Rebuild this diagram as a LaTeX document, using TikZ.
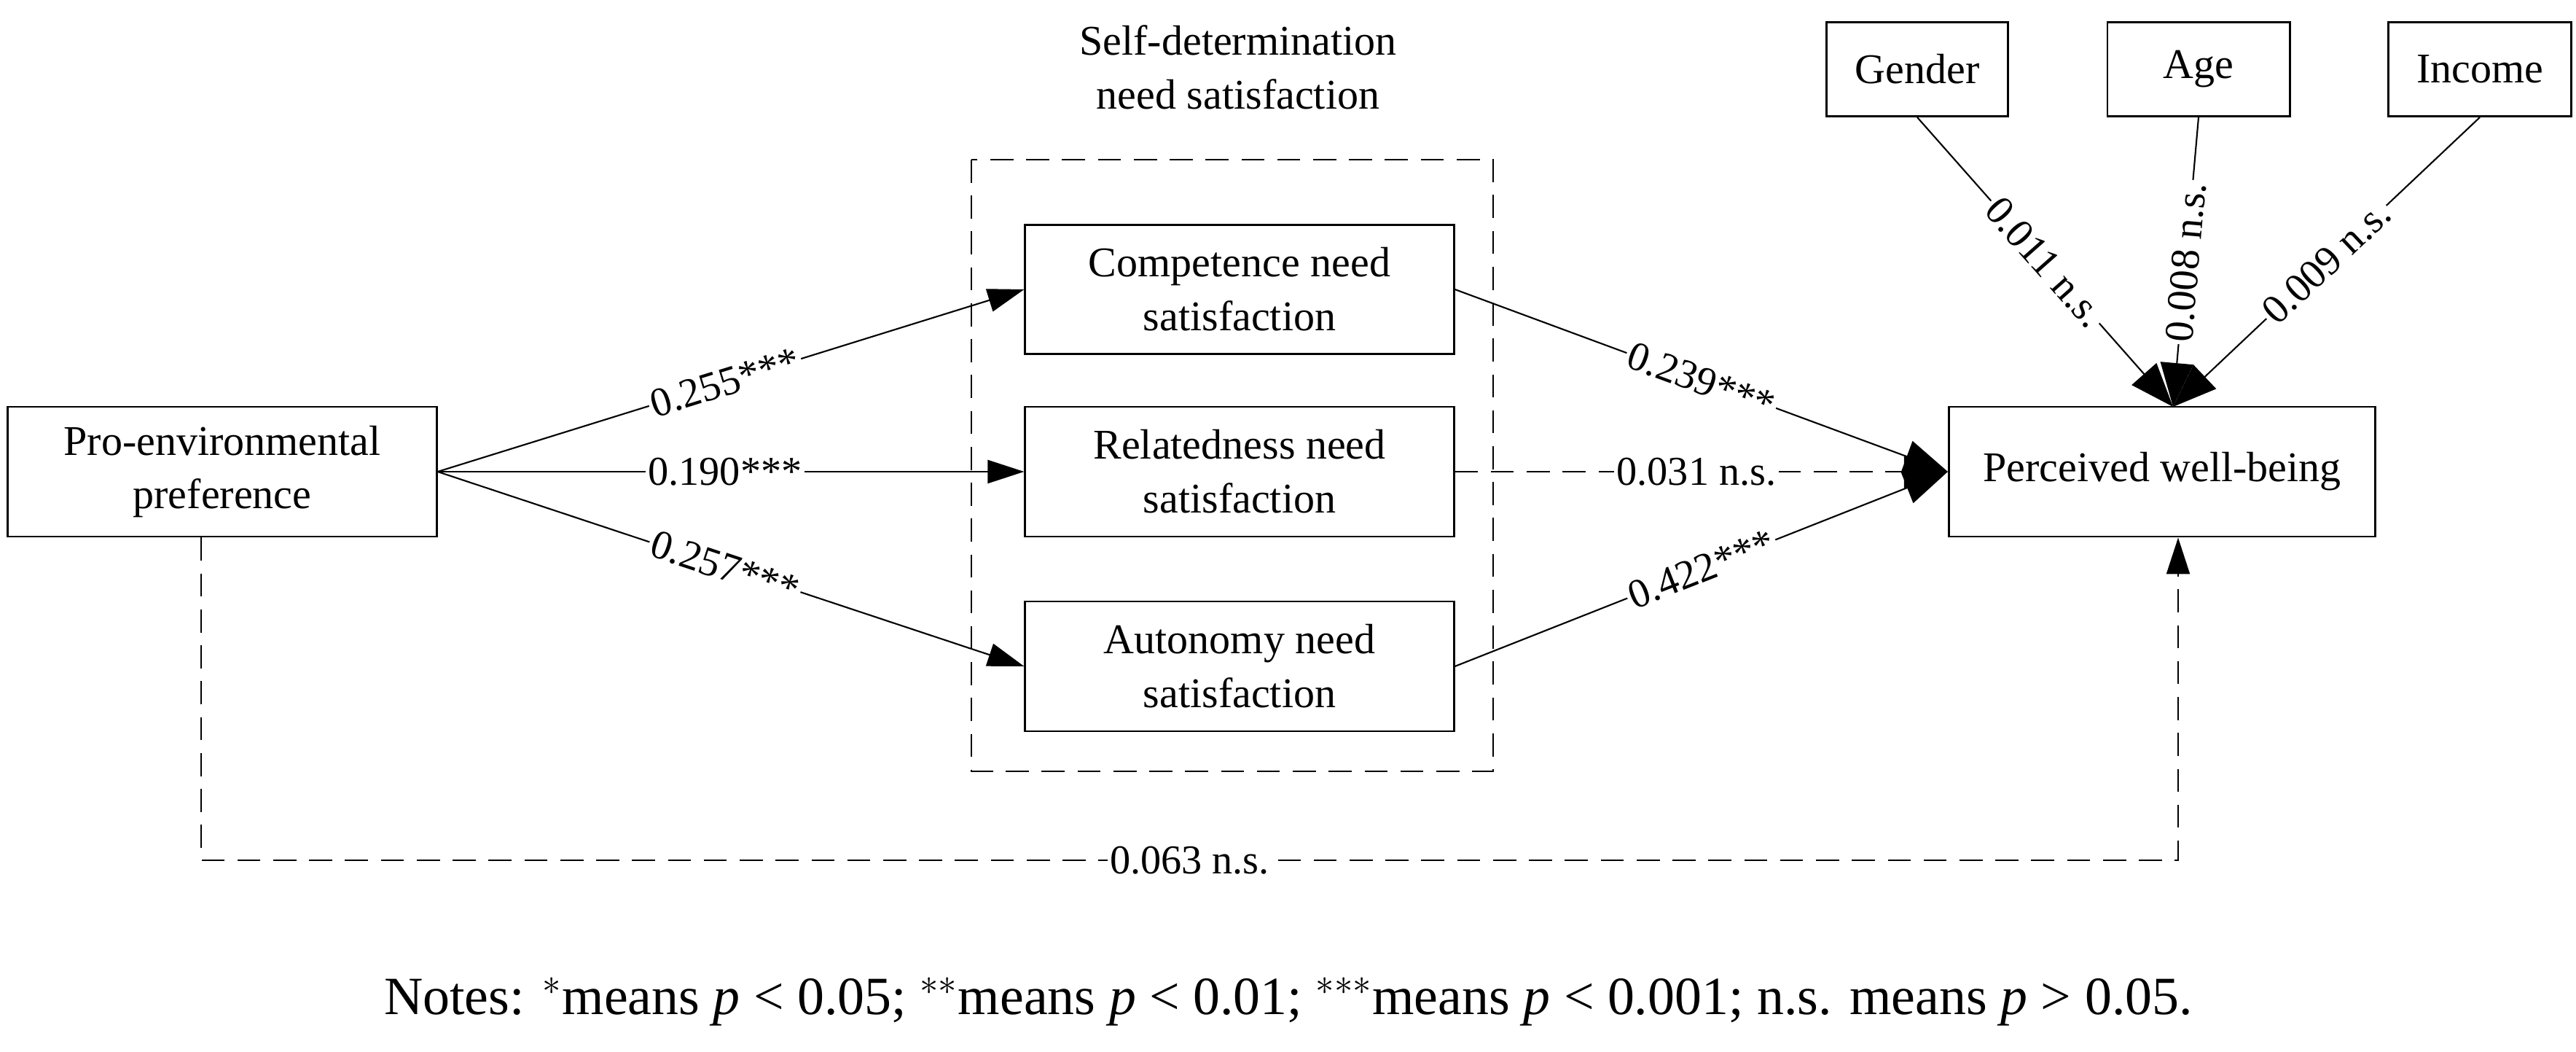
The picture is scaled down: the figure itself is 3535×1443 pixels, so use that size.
\documentclass[tikz,border=0pt]{standalone}
\usepackage{fontspec}
\setmainfont{Liberation Serif}
\usetikzlibrary{arrows.meta}
\begin{document}
\begin{tikzpicture}[x=0.01cm,y=-0.01cm,
  box/.style={draw,line width=0.8pt,align=center,font=\fontsize{16.5}{21}\selectfont,inner sep=0pt},
  lab/.style={fill=white,inner sep=1pt,font=\fontsize{16}{18}\selectfont},
  arr/.style={line width=0.6pt,-{Triangle[length=0.5cm,width=0.32cm]}},
  bigarr/.style={line width=0.6pt,-{Triangle[length=0.6cm,width=0.45cm]}},
  dsh/.style={dash pattern=on 9pt off 5pt}]
\useasboundingbox (0,0) rectangle (3535,1443);
\node[box,minimum width=5.88cm,minimum height=1.78cm] (pro) at (305,647) {Pro-environmental\\preference};
\node[box,minimum width=5.88cm,minimum height=1.77cm] (comp) at (1701,397) {Competence need\\satisfaction};
\node[box,minimum width=5.88cm,minimum height=1.78cm] (rel) at (1701,647) {Relatedness need\\satisfaction};
\node[box,minimum width=5.88cm,minimum height=1.78cm] (aut) at (1701,914) {Autonomy need\\satisfaction};
\node[box,minimum width=5.85cm,minimum height=1.78cm] (pwb) at (2967,647) {Perceived well-being};
\node[box,minimum width=2.49cm,minimum height=1.29cm] (gen) at (2631,95) {Gender};
\node[box,minimum width=2.5cm,minimum height=1.29cm] (age) at (3017,95) {Age};
\node[box,minimum width=2.51cm,minimum height=1.29cm] (inc) at (3403,95) {Income};
\draw[line width=0.8pt,dsh] (1333,219) rectangle (2049,1058);
\node[font=\fontsize{16.5}{21}\selectfont,align=center] (title) at (1699,92) {Self-determination\\need satisfaction};
\coordinate (top) at (2982,558);
\draw[arr] (pro.east) -- node[lab,sloped,pos=0.49]{0.255***} (comp.west);
\draw[arr] (pro.east) -- node[lab,pos=0.49]{0.190***} (rel.west);
\draw[arr] (pro.east) -- node[lab,sloped,pos=0.49]{0.257***} (aut.west);
\draw[bigarr] (comp.east) -- node[lab,sloped,pos=0.5]{0.239***} (pwb.west);
\draw[bigarr,dsh] (rel.east) -- node[lab,pos=0.49]{0.031 n.s.} (pwb.west);
\draw[bigarr] (aut.east) -- node[lab,sloped,pos=0.5]{0.422***} (pwb.west);
\draw[bigarr] (gen.south) -- node[lab,sloped,pos=0.5]{0.011 n.s.} (top);
\draw[bigarr] (age.south) -- node[lab,sloped,pos=0.5]{0.008 n.s.} (top);
\draw[bigarr] (inc.south) -- node[lab,sloped,pos=0.5]{0.009 n.s.} (top);
\coordinate (bl) at (276,1180);
\coordinate (br) at (2989,1180);
\draw[arr,dsh] (pro.south -| bl) -- (bl) -- node[lab,pos=0.5]{0.063 n.s.} (br) -- (pwb.south -| br);
\node[font=\fontsize{21}{24}\selectfont] (notes) at (1768,1374) {Notes: $^*$means \textit{p} < 0.05; $^{**}$means \textit{p} < 0.01; $^{***}$means \textit{p} < 0.001; n.s. means \textit{p} > 0.05.};
\end{tikzpicture}
\end{document}
